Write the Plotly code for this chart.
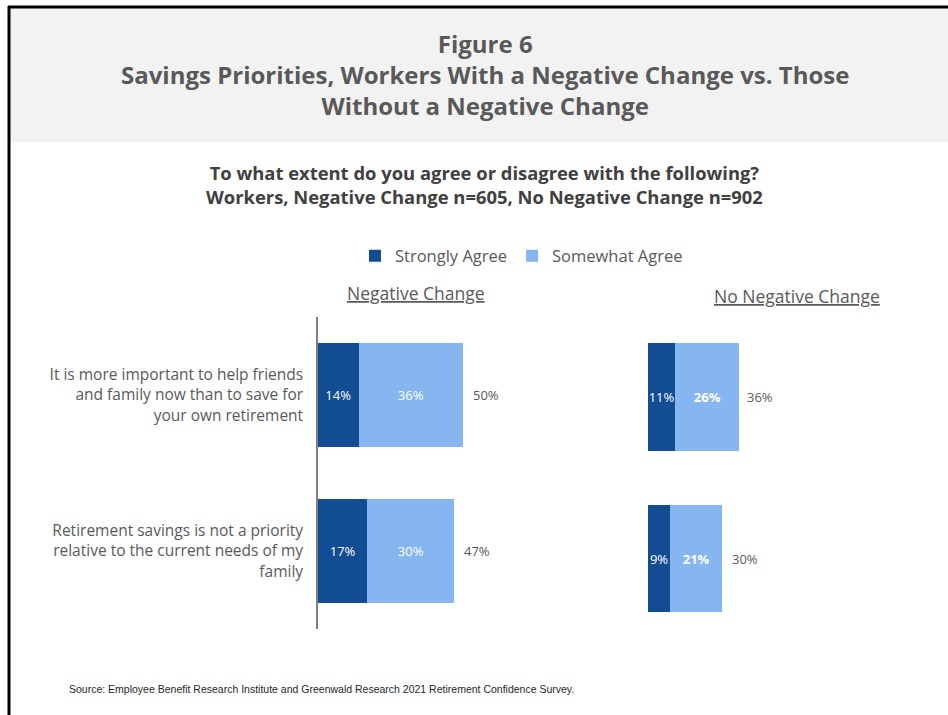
import plotly.graph_objects as go

W, H = 948, 715

categories = [
    "It is more important to help friends<br>and family now than to save for<br>your own retirement",
    "Retirement savings is not a priority<br>relative to the current needs of my<br>family",
]
series_names = ["Strongly Agree", "Somewhat Agree"]
neg_strong = [14, 17]
neg_some = [36, 30]
neg_total = [50, 47]
non_strong = [11, 9]
non_some = [26, 21]
non_total = [36, 30]

C_STRONG = "#124D93"
C_SOME = "#85B6F0"
GRAY = "#595959"
FONT = "'Open Sans', Lato, sans-serif"

def px_x(p):
    return p / W

def px_y(p):
    return 1 - p / H

fig = go.Figure()

def bar(name, vals, texts, xa, ya, show):
    return go.Bar(
        name=name, y=categories, x=vals, orientation="h",
        marker=dict(color=C_STRONG if name == series_names[0] else C_SOME, line=dict(width=0)),
        text=texts, textposition="inside", insidetextanchor="middle", textangle=0,
        textfont=dict(color="white", size=13, family=FONT), constraintext="none",
        xaxis=xa, yaxis=ya, legendgroup=name, showlegend=show, hoverinfo="skip",
    )

fig.add_trace(bar(series_names[0], neg_strong, [f"{v}%" for v in neg_strong], "x", "y", True))
fig.add_trace(bar(series_names[1], neg_some, [f"{v}%" for v in neg_some], "x", "y", True))
fig.add_trace(bar(series_names[0], non_strong, [f"{v}%" for v in non_strong], "x2", "y2", False))
fig.add_trace(bar(series_names[1], non_some, [f"<b>{v}%</b>" for v in non_some], "x2", "y2", False))

annotations = []
for c, t in zip(categories, neg_total):
    annotations.append(dict(x=t, y=c, xref="x", yref="y", text=f"{t}%", showarrow=False,
                            xanchor="left", xshift=8, font=dict(color=GRAY, size=13, family=FONT)))
for c, t in zip(categories, non_total):
    annotations.append(dict(x=t, y=c, xref="x2", yref="y2", text=f"{t}%", showarrow=False,
                            xanchor="left", xshift=8, font=dict(color=GRAY, size=13, family=FONT)))

title_lines = [
    "Figure 6",
    "Savings Priorities, Workers With a Negative Change vs. Those",
    "Without a Negative Change",
]
annotations.append(dict(x=px_x(485), y=px_y(74), xref="paper", yref="paper",
                        text="<br>".join(f"<b>{l}</b>" for l in title_lines), showarrow=False,
                        xanchor="center", yanchor="middle", align="center",
                        font=dict(color=GRAY, size=24, family=FONT)))
sub_lines = [
    "To what extent do you agree or disagree with the following?",
    "Workers, Negative Change n=605, No Negative Change n=902",
]
annotations.append(dict(x=px_x(484), y=px_y(184.5), xref="paper", yref="paper",
                        text="<br>".join(f"<b>{l}</b>" for l in sub_lines), showarrow=False,
                        xanchor="center", yanchor="middle", align="center",
                        font=dict(color="#404040", size=18.4, family=FONT)))
annotations.append(dict(x=px_x(416), y=px_y(293), xref="paper", yref="paper",
                        text="<u>Negative Change</u>", showarrow=False, xanchor="center", yanchor="middle",
                        font=dict(color=GRAY, size=17.5, family=FONT)))
annotations.append(dict(x=px_x(797), y=px_y(296), xref="paper", yref="paper",
                        text="<u>No Negative Change</u>", showarrow=False, xanchor="center", yanchor="middle",
                        font=dict(color=GRAY, size=17.5, family=FONT)))
annotations.append(dict(x=px_x(67), y=px_y(689), xref="paper", yref="paper",
                        text="Source: Employee Benefit Research Institute and Greenwald Research 2021 Retirement Confidence Survey.",
                        showarrow=False, xanchor="left", yanchor="middle",
                        font=dict(color="#262626", size=10.5, family="'Liberation Sans', Arial, sans-serif")))

shapes = [
    dict(type="rect", xref="paper", yref="paper", x0=px_x(10), x1=1, y0=px_y(142), y1=px_y(8),
         fillcolor="#F2F2F2", line=dict(width=0), layer="below"),
    dict(type="line", xref="paper", yref="paper", x0=px_x(8), x1=1, y0=px_y(7), y1=px_y(7),
         line=dict(color="black", width=3)),
    dict(type="line", xref="paper", yref="paper", x0=px_x(9), x1=px_x(9), y0=0, y1=px_y(6),
         line=dict(color="black", width=3)),
]

fig.update_layout(
    width=W, height=H, margin=dict(l=0, r=0, t=0, b=0),
    paper_bgcolor="white", plot_bgcolor="rgba(0,0,0,0)",
    barmode="stack", bargap=0.333,
    font=dict(family=FONT, color=GRAY),
    uniformtext=dict(minsize=13, mode="show"),
    showlegend=True,
    legend=dict(orientation="h", x=px_x(355), y=px_y(256), xanchor="left", yanchor="middle",
                font=dict(size=16.5, color=GRAY, family=FONT), traceorder="normal",
                itemclick=False, bgcolor="rgba(0,0,0,0)"),
    xaxis=dict(domain=[px_x(318), px_x(492)], range=[0, 60], visible=False, anchor="y"),
    xaxis2=dict(domain=[px_x(648), px_x(771.5)], range=[0, 50], visible=False, anchor="y2"),
    yaxis=dict(domain=[px_y(629), px_y(317)], range=[1.5, -0.5], type="category", anchor="x",
               showline=True, linecolor="#7F7F7F", linewidth=1.5, ticks="", showgrid=False,
               tickfont=dict(size=15.5, color=GRAY, family=FONT), ticklabelstandoff=10),
    yaxis2=dict(domain=[px_y(639.25), px_y(316.25)], range=[1.5, -0.5], type="category", anchor="x2",
                showline=False, showticklabels=False, ticks="", showgrid=False),
    annotations=annotations,
    shapes=shapes,
)

fig.write_html("out.html", config={"displayModeBar": False},
               post_script="document.body.style.margin='0';document.body.style.overflow='hidden';")
